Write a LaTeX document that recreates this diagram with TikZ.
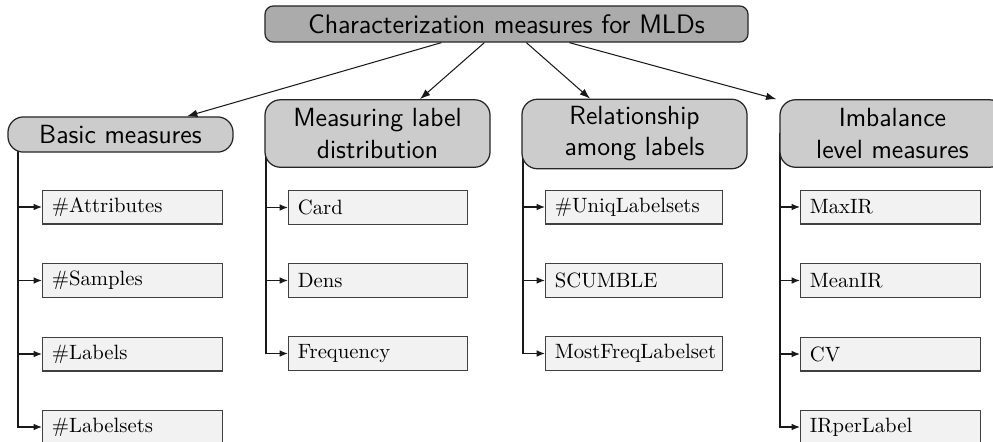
\documentclass[tikz,border=0pt]{standalone}
\usetikzlibrary{arrows.meta,calc,backgrounds}
\begin{document}
\begin{tikzpicture}[x=0.483pt,y=-0.483pt,
  topbox/.style={draw=black!85, line width=0.6pt, fill=gray!66, rounded corners=4pt,
    minimum width=233.3pt, minimum height=17.4pt, inner sep=0pt,
    font=\sffamily\fontsize{12.9}{15}\selectfont},
  catbox/.style={draw=black!85, line width=0.6pt, fill=gray!40, rounded corners=7.5pt,
    minimum width=108.7pt, inner sep=0pt, align=center,
    font=\sffamily\fontsize{12.7}{15}\selectfont},
  leaf/.style={draw=black!75, line width=0.5pt, fill=gray!10, anchor=west,
    minimum height=16.4pt, text width=78pt, inner xsep=4.5pt, inner ysep=0pt, align=left,
    font=\fontsize{10}{12}\selectfont},
  arr/.style={-{Latex[length=5pt,width=3.6pt]}, black!90, line width=0.5pt},
  sarr/.style={-{Latex[length=4pt,width=3.2pt]}, black!90, line width=0.6pt}]
\clip (0,0) rectangle (993,441);
\useasboundingbox (0,0) rectangle (993,441);

\node[topbox] (top) at (506.5,24) {Characterization measures for MLDs};

\node[catbox, minimum height=17pt] (basic) at (120.5,134.5) {Basic measures};
\node[catbox, minimum height=32.6pt] (meas) at (377.5,133.5) {Measuring label\\distribution};
\node[catbox, minimum height=33.6pt] (rel) at (634.5,134) {Relationship\\among labels};
\node[catbox, minimum height=32.6pt] (imb) at (892.5,133.5) {Imbalance\\level measures};

% leaves
\node[leaf] (b1) at (42,207) {\#Attributes};
\node[leaf] (b2) at (42,280.5) {\#Samples};
\node[leaf] (b3) at (42,354) {\#Labels};
\node[leaf] (b4) at (42,427) {\#Labelsets};

\node[leaf, text width=77.5pt] (m1) at (288,207.5) {Card};
\node[leaf, text width=77.5pt] (m2) at (288,280.5) {Dens};
\node[leaf, text width=77.5pt] (m3) at (288,353.5) {Frequency};

\node[leaf, text width=76.5pt] (r1) at (545,207) {\#UniqLabelsets};
\node[leaf, text width=76.5pt] (r2) at (545,280.5) {SCUMBLE};
\node[leaf, text width=76.5pt] (r3) at (545,353.5) {MostFreqLabelset};

\node[leaf] (i1) at (800,207) {MaxIR};
\node[leaf] (i2) at (800,280.5) {MeanIR};
\node[leaf] (i3) at (800,354) {CV};
\node[leaf] (i4) at (800,427) {IRperLabel};

\coordinate (bl) at (18,134);
\coordinate (ml) at (266,133);
\coordinate (rl) at (523,134);
\coordinate (il) at (780,133);

\begin{scope}[on background layer]
  \draw[sarr] (bl) |- (b4.west);
  \draw[sarr] (ml) |- (m3.west);
  \draw[sarr] (rl) |- (r3.west);
  \draw[sarr] (il) |- (i4.west);
\end{scope}

\foreach \n in {b1,b2,b3} \draw[sarr] (\n.west -| bl) -- (\n.west);
\foreach \n in {m1,m2} \draw[sarr] (\n.west -| ml) -- (\n.west);
\foreach \n in {r1,r2} \draw[sarr] (\n.west -| rl) -- (\n.west);
\foreach \n in {i1,i2,i3} \draw[sarr] (\n.west -| il) -- (\n.west);

% top arrows
\draw[arr] ($(top.south west)+(177,0)$) -- ($(basic.north)+(66.5,0)$);
\draw[arr] ($(top.south west)+(220,0)$) -- ($(meas.north)+(42.5,0)$);
\draw[arr] ($(top.south west)+(262,0)$) -- ($(rel.north)+(-44.5,0)$);
\draw[arr] ($(top.south west)+(305,0)$) -- ($(imb.north west)+(-3,0)$);
\end{tikzpicture}
\end{document}
